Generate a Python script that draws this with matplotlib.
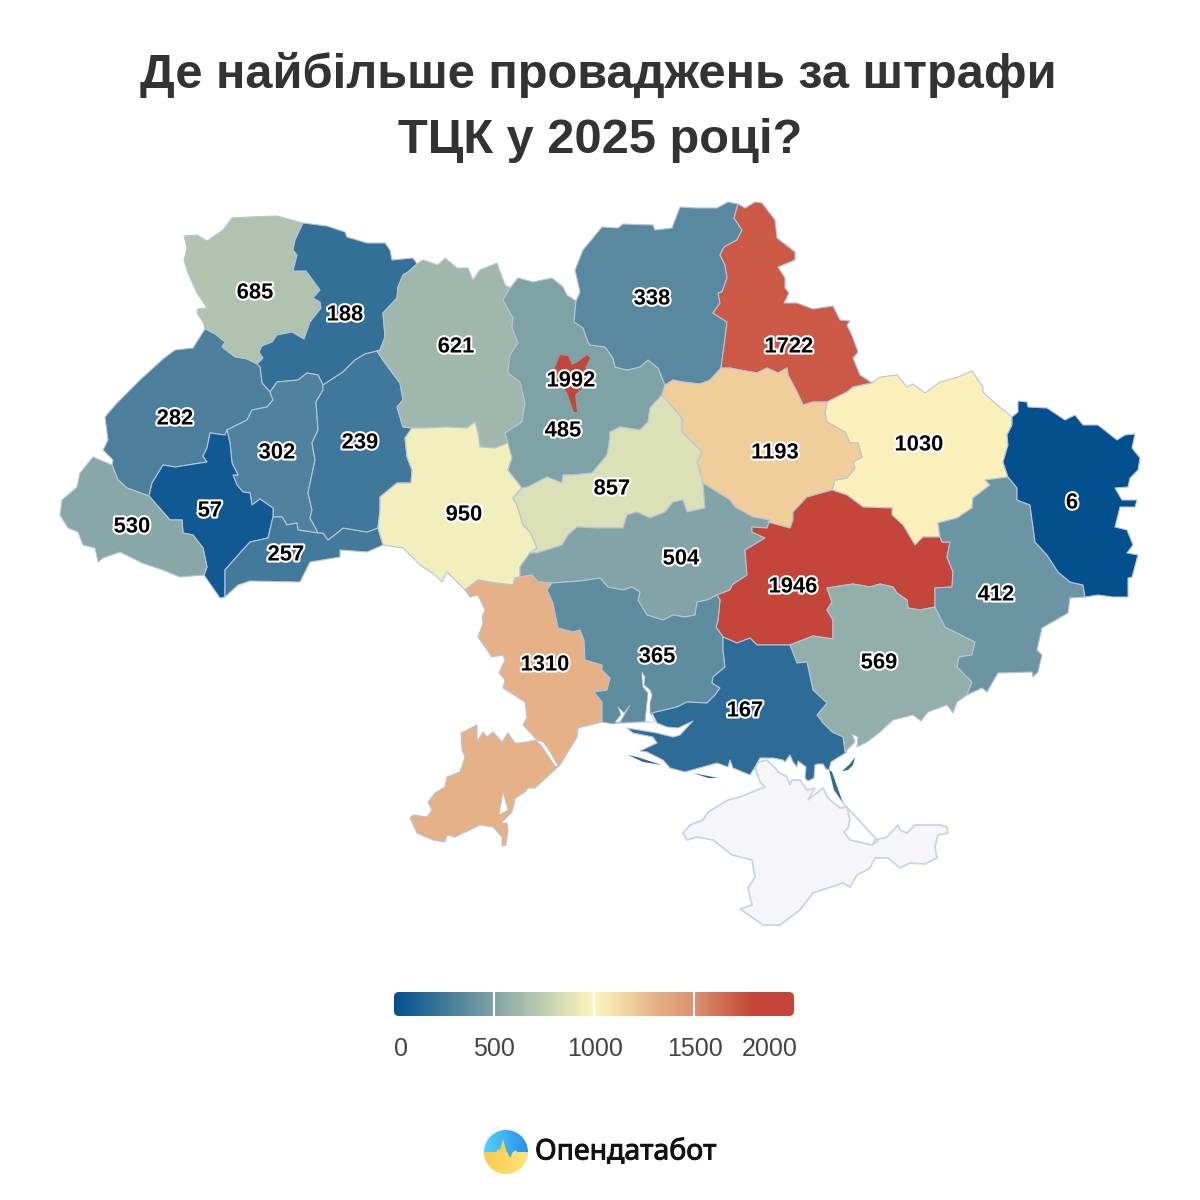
import numpy as np
import matplotlib
matplotlib.use('Agg')
import matplotlib.pyplot as plt
import matplotlib.patheffects as pe
from matplotlib.colors import LinearSegmentedColormap, Normalize
from matplotlib.patches import Polygon, FancyBboxPatch, Circle

plt.rcParams['font.family'] = ['Liberation Sans', 'DejaVu Sans']

# values per region
names = ['volyn', 'rivne', 'lviv', 'ternopil', 'ivano', 'zakarpattia', 'chernivtsi', 'khmelnytskyi',
         'zhytomyr', 'vinnytsia', 'kyivobl', 'chernihiv', 'sumy', 'kharkiv', 'poltava', 'cherkasy',
         'kirovohrad', 'dnipro', 'zaporizhzhia', 'donetsk', 'luhansk', 'odesa', 'mykolaiv', 'kherson', 'kyivcity']
values = [685, 188, 282, 302, 57, 530, 257, 239,
          621, 950, 485, 338, 1722, 1030, 1193, 857,
          504, 1946, 569, 412, 6, 1310, 365, 167, 1992]
label_x = [255, 345, 175, 277, 210, 132, 286, 360,
           456, 464, 563, 652, 789, 919, 775, 612,
           681, 793, 879, 996, 1072, 545, 657, 745, 571]
label_y = [293, 315, 419, 453, 511, 527, 555, 443,
           347, 515, 431, 299, 347, 445, 453, 489,
           559, 587, 663, 595, 503, 665, 657, 711, 381]

# legend
legend_ticks = [0, 500, 1000, 1500, 2000]
stop_values = [0, 500, 857, 1000, 1193, 1310, 1500, 1722, 1800, 2000]
stop_colors = ['#03508f', '#82a4a6', '#dce1b6', '#fdf6be', '#f0ce9a', '#e6b187', '#dc9273', '#cb5a46', '#c4453a', '#c4453a']

volyn_rivne = [(303,223),(295,240),(293,250),(297,255),(293,271),(306,271),(320,290),(313,298),(320,302),(321,308),(310,322),(304,339),(292,332),(277,335),(272,342),(262,346),(259,352),(263,358),(257,364)]
volyn_lviv = [(257,364),(247,359),(235,357),(222,347),(225,342),(215,334),(205,329)]
volyn_outer = [(205,329),(203,322),(197,313),(198,309),(207,308),(197,293),(188,273),(184,260),(187,248),(184,236),(197,235),(207,241),(223,230),(232,218),(250,217),(277,216),(303,223)]
rivne_outer = [(303,223),(327,226),(345,232),(347,237),(367,243),(385,243),(390,250),(392,260),(413,258),(417,264)]
rivne_zhyt = [(417,264),(408,272),(403,275),(398,287),(397,298),(383,313),(385,337),(380,350),(377,351)]
rivne_khm = [(377,351),(365,354),(355,360),(343,372),(323,385)]
rivne_tern = [(323,385),(318,375),(307,373),(298,380),(277,382),(270,392)]
rivne_lviv = [(270,392),(262,383),(260,367),(257,364)]
lviv_outer = [(205,329),(193,348),(175,350),(163,359),(140,380),(117,403),(105,417),(108,440),(103,450),(113,460),(112,465)]
lviv_zak = [(112,465),(118,480),(127,488),(149,496)]
lviv_ivano = [(149,496),(152,483),(163,465),(175,467),(207,462),(203,456),(207,448),(210,433),(225,435),(227,430)]
lviv_tern = [(227,430),(247,420),(252,410),(267,407),(273,400),(270,392)]
tern_khm = [(323,385),(323,390),(316,402),(318,430),(312,443),(315,460),(308,493),(312,510),(310,518),(315,527),(318,533)]
tern_chern = [(318,533),(298,530),(297,523),(287,525),(282,517),(273,517)]
tern_ivano = [(273,517),(273,508),(260,499),(252,505),(250,493),(243,492),(237,485),(233,475),(238,475),(232,463),(230,443),(227,430)]
ivano_zak = [(149,496),(170,520),(182,520),(183,533),(193,535),(203,548),(207,567),(204,575)]
ivano_tip = [(204,575),(220,598),(225,597)]
ivano_chern = [(225,597),(225,570),(240,553),(250,542),(268,538),(273,517)]
zak_outer = [(204,575),(180,577),(163,570),(142,563),(120,552),(103,558),(98,562),(95,548),(83,545),(78,532),(68,528),(60,515),(62,500),(77,487),(80,473),(93,457),(112,465)]
chern_outer = [(225,597),(238,585),(250,581),(300,582),(310,562),(340,557),(340,550),(367,552),(383,545)]
chern_vin = [(383,545),(378,528)]
chern_khm = [(378,528),(367,532),(343,528),(337,533),(328,540),(323,533),(318,533)]
khm_zhyt = [(377,351),(385,363),(400,383),(403,400),(397,407),(403,427),(412,428)]
khm_vin = [(412,428),(405,438),(407,457),(412,470),(411,483),(397,483),(380,497),(380,510),(378,528)]
zhyt_outer = [(417,264),(423,260),(438,265),(445,258),(457,268),(468,268),(473,280),(480,270),(497,263),(505,285),(510,288)]
zhyt_kyiv = [(510,288),(503,300),(513,318),(512,328),(518,343),(510,355),(508,373),(520,382),(525,403),(522,422),(505,433),(508,443)]
zhyt_vin = [(508,443),(495,448),(480,447),(478,433),(475,422),(467,428),(445,427),(427,428),(412,428)]
vin_outer = [(383,545),(403,548),(420,565),(435,575),(442,582),(447,572),(465,590)]
vin_odesa = [(465,590),(478,580),(495,583),(513,585),(515,578),(520,577)]
vin_kirov = [(520,577),(520,567),(530,553)]
vin_cherk = [(530,553),(537,548),(530,532),(523,525),(517,505),(513,498),(522,488)]
vin_kyiv = [(522,488),(508,470),(512,458),(508,443)]
kyiv_outer = [(510,288),(518,278),(533,282),(552,278),(563,287),(567,295),(576,301)]
kyiv_cher = [(576,301),(574,322),(583,328),(588,342),(590,345),(605,347),(613,358),(615,367),(627,370),(640,367),(648,360),(658,368),(665,385)]
kyiv_polt = [(665,385),(662,395)]
kyiv_cherk = [(662,395),(650,408),(648,422),(640,430),(620,427),(610,432),(609,445),(607,455),(592,473),(573,475),(563,475),(562,483),(547,477),(528,487),(522,488)]
cher_outer = [(576,301),(580,292),(575,270),(583,250),(602,227),(618,228),(623,224),(653,225),(655,230),(672,228),(680,207),(697,208),(717,208),(728,202),(738,204)]
cher_sumy = [(738,204),(734,218),(742,230),(737,240),(724,247),(720,255),(725,265),(727,278),(722,292),(718,293),(720,303),(713,313),(727,322),(725,338),(721,368)]
cher_polt = [(721,368),(710,380),(700,384),(683,382),(673,380),(665,385)]
sumy_outer = [(738,204),(745,208),(755,202),(762,203),(775,220),(777,238),(795,252),(795,260),(778,267),(785,278),(785,288),(789,293),(784,303),(797,303),(813,309),(833,306),(840,320),(850,321),(847,325),(853,338),(858,352),(853,358),(860,375),(872,383)]
sumy_khar = [(872,383),(853,387),(847,392),(827,402)]
sumy_polt = [(827,402),(813,402),(803,405),(797,392),(788,375),(787,368),(778,373),(767,368),(757,373),(740,370),(730,368),(721,368)]
khar_outer = [(872,383),(880,377),(897,375),(907,387),(913,384),(925,393),(940,382),(958,377),(972,371),(983,387),(983,392),(995,403),(1012,417)]
khar_lug = [(1012,417),(1012,425),(1007,435),(1008,445),(1003,462),(1008,477)]
khar_don = [(1008,477),(985,480),(990,485),(973,498),(972,508),(957,518),(938,523),(940,537)]
khar_dni = [(940,537),(923,537),(915,545),(903,525),(892,515),(892,508),(863,507),(847,495),(832,490)]
khar_polt = [(832,490),(835,480),(847,478),(855,468),(853,462),(862,457),(858,443),(850,443),(845,432),(827,422),(825,413),(827,402)]
polt_cherk = [(662,395),(682,418),(682,432),(702,452),(697,462),(703,483)]
polt_kirov = [(703,483),(730,500),(735,507),(753,517),(770,520)]
dni_polt = [(770,520),(768,522),(790,528),(793,520),(793,512),(807,497),(832,490)]
cherk_kirov = [(703,483),(705,508),(687,512),(683,500),(673,502),(665,512),(650,518),(637,512),(627,515),(623,528),(597,528),(577,527),(568,535),(562,545),(537,553),(530,553)]
kirov_odesa = [(520,577),(532,575),(538,582),(552,583)]
kirov_myk = [(552,583),(580,581),(600,578),(608,587),(623,590),(632,587),(640,592),(638,600),(647,615),(663,620),(673,615),(685,617),(695,615),(697,602),(707,600),(717,595)]
kirov_dni = [(717,595),(730,590),(732,585),(747,575),(745,550),(765,538),(752,532),(752,527),(767,528),(770,520)]
dni_don = [(940,537),(942,542),(950,542),(947,557),(953,572),(952,587),(935,588),(935,602),(935,607)]
dni_zap = [(935,607),(920,610),(908,608),(907,600),(897,593),(893,587),(880,584),(870,587),(853,584),(827,588),(832,602),(827,610),(833,620),(833,639),(813,636),(790,645)]
dni_kher = [(790,645),(757,645),(750,638),(737,643),(723,637)]
dni_myk = [(717,595),(720,600),(718,620),(716,627),(723,637)]
zap_don = [(935,607),(945,627),(975,642),(972,655),(959,657),(957,667),(972,682),(967,695)]
zap_outer = [(967,695),(957,702),(953,713),(947,705),(928,712),(921,721),(913,715),(893,720),(880,732),(867,742),(857,747),(858,737),(852,734),(855,742),(845,752)]
zap_kher = [(845,752),(843,737),(832,732),(823,723),(817,715),(827,703),(813,690),(807,662),(797,663),(790,645)]
don_lug = [(1008,477),(1017,488),(1017,500),(1030,505),(1035,542),(1047,555),(1058,572),(1070,582),(1083,585),(1085,597)]
don_outer = [(1085,597),(1070,598),(1068,613),(1042,628),(1037,650),(1042,655),(1038,672),(1033,677),(1032,672),(998,673),(987,692),(982,688),(967,695)]
lug_outer = [(1012,417),(1018,412),(1018,401),(1027,402),(1028,407),(1047,408),(1065,420),(1075,415),(1083,425),(1098,425),(1117,440),(1125,435),(1135,434),(1132,448),(1140,458),(1138,470),(1130,478),(1128,487),(1115,488),(1122,500),(1137,500),(1135,507),(1120,507),(1115,527),(1127,530),(1133,545),(1127,553),(1138,555),(1132,577),(1128,578),(1128,597),(1113,597),(1098,595),(1085,597)]
odesa_outer = [(465,590),(470,597),(478,595),(485,610),(482,617),(483,623),(478,637),(492,657),(503,655),(505,660),(499,673),(505,680),(503,688),(525,702),(527,717),(523,725),(537,740),(520,743),(515,743),(508,733),(502,742),(493,732),(487,737),(483,732),(477,742),(477,725),(461,733),(462,750),(465,757),(460,772),(447,777),(445,787),(435,793),(428,802),(432,810),(427,817),(413,815),(410,818),(417,833),(433,840),(445,842),(447,835),(455,837),(480,825),(493,827),(502,837),(502,846),(506,845),(508,830),(507,823),(501,823),(512,812),(515,800),(513,800),(520,795),(525,792),(528,788),(535,788),(560,765),(577,737),(578,728),(602,722)]
odesa_myk = [(552,583),(547,590),(553,603),(558,628),(573,632),(580,630),(584,640),(585,660),(602,665),(602,670),(610,678),(607,690),(594,692),(602,702),(602,722)]
myk_kher = [(723,637),(723,650),(725,667),(713,677),(712,683),(720,688),(715,695),(707,703),(687,702),(677,707),(652,713)]
myk_coast = [(652,713),(649,722),(640,722),(625,723),(617,723),(613,724),(602,722)]
kher_coast = [(847,752),(831,762),(829,770),(826,769),(823,764),(818,764),(815,765),(814,778),(808,781),(805,778),(806,767),(798,761),(797,767),(793,762),(790,755),(785,762),(783,760),(773,758),(760,758),(755,767),(750,775),(733,768),(730,760),(728,767),(717,763),(685,772),(670,768),(663,760),(647,752),(640,751),(657,743),(653,737),(633,733),(627,728),(657,733),(673,737),(680,735),(693,721),(678,728),(667,727),(657,723),(652,713)]
kyivcity_ring = [(560,355),(568,356),(572,365),(578,362),(587,355),(590,358),(585,368),(590,377),(580,390),(575,395),(577,412),(574,412),(567,392),(557,382),(555,368)]
crimea_ring = [(683,833),(690,825),(703,820),(708,812),(723,803),(728,800),(740,797),(757,790),(765,787),(760,782),(755,768),(758,762),(767,760),(777,770),(778,772),(787,777),(790,785),(792,780),(800,780),(807,790),(815,788),(808,800),(823,788),(828,798),(840,808),(847,807),(850,820),(848,828),(844,832),(850,840),(872,845),(875,840),(887,837),(898,825),(900,830),(907,833),(915,825),(940,825),(947,827),(948,833),(938,835),(935,847),(937,858),(925,864),(910,863),(900,868),(888,858),(875,858),(870,868),(857,875),(850,887),(843,883),(813,893),(800,910),(780,925),(763,925),(753,918),(740,909),(752,905),(748,888),(755,877),(752,860),(732,855),(713,840),(697,837),(687,840)]
arabat_line = [(843,803),(878,841),(872,845)]

# water cut into the coast and small islands
inlets = [
    [(642,672),(645,677),(644,685),(650,690),(652,695),(650,703),(650,713),(655,722),(645,722),(646,712),(647,703),(648,693),(643,687),(642,677)],
    [(618,707),(624,713),(630,705),(623,717),(620,722),(615,722),(621,715)],
    [(535,740),(541,745),(555,766),(558,766),(549,750),(543,742)],
    [(503,792),(499,815),(508,810)],
]
islands = [
    [(628,755),(637,757),(662,765),(643,762)],
    [(693,773),(718,778),(708,778)],
    [(829,770),(832,772),(843,803),(834,790)],
    [(842,771),(850,764),(855,757),(853,765),(848,770)],
]


def rv(chain):
    return chain[::-1]


def ring(*parts):
    pts = []
    for p in parts:
        pts += p
    return pts


rings = {
    'volyn': ring(volyn_rivne, volyn_lviv, volyn_outer),
    'rivne': ring(rivne_outer, rivne_zhyt, rivne_khm, rivne_tern, rivne_lviv, rv(volyn_rivne)),
    'lviv': ring(lviv_outer, lviv_zak, lviv_ivano, lviv_tern, rivne_lviv, volyn_lviv),
    'ternopil': ring(rv(rivne_tern), tern_khm, tern_chern, tern_ivano, lviv_tern),
    'ivano': ring(rv(lviv_ivano), ivano_zak, ivano_tip, ivano_chern, tern_ivano),
    'zakarpattia': ring(zak_outer, lviv_zak, ivano_zak),
    'chernivtsi': ring(rv(ivano_chern), chern_outer, chern_vin, chern_khm, tern_chern),
    'khmelnytskyi': ring(rv(rivne_khm), khm_zhyt, khm_vin, chern_khm, rv(tern_khm)),
    'zhytomyr': ring(zhyt_outer, zhyt_kyiv, zhyt_vin, rv(khm_zhyt), rv(rivne_zhyt)),
    'vinnytsia': ring(vin_outer, vin_odesa, vin_kirov, vin_cherk, vin_kyiv, zhyt_vin, khm_vin, rv(chern_vin)),
    'kyivobl': ring(kyiv_outer, kyiv_cher, kyiv_polt, kyiv_cherk, vin_kyiv, rv(zhyt_kyiv)),
    'chernihiv': ring(cher_outer, cher_sumy, cher_polt, rv(kyiv_cher)),
    'sumy': ring(sumy_outer, sumy_khar, sumy_polt, rv(cher_sumy)),
    'kharkiv': ring(khar_outer, khar_lug, khar_don, khar_dni, khar_polt, rv(sumy_khar)),
    'poltava': ring(rv(kyiv_polt), rv(cher_polt), rv(sumy_polt), rv(khar_polt), rv(dni_polt), rv(polt_kirov), rv(polt_cherk)),
    'cherkasy': ring(rv(kyiv_cherk), polt_cherk, cherk_kirov, vin_cherk),
    'kirovohrad': ring(rv(vin_kirov), kirov_odesa, kirov_myk, kirov_dni, rv(polt_kirov), cherk_kirov),
    'dnipro': ring(dni_polt, rv(khar_dni), dni_don, dni_zap, dni_kher, rv(dni_myk), kirov_dni),
    'zaporizhzhia': ring(rv(dni_zap), zap_don, zap_outer, zap_kher),
    'donetsk': ring(rv(khar_don), don_lug, don_outer, rv(zap_don), rv(dni_don)),
    'luhansk': ring(lug_outer, rv(don_lug), rv(khar_lug)),
    'odesa': ring(vin_odesa, kirov_odesa, odesa_myk, rv(odesa_outer)),
    'mykolaiv': ring(kirov_myk, dni_myk, myk_kher, myk_coast, rv(odesa_myk)),
    'kherson': ring(rv(dni_kher), rv(zap_kher), kher_coast, rv(myk_kher)),
    'kyivcity': kyivcity_ring,
}

positions = [(v - stop_values[0]) / (stop_values[-1] - stop_values[0]) for v in stop_values]
cmap = LinearSegmentedColormap.from_list('rdylbu', list(zip(positions, stop_colors)))
norm = Normalize(0, 2000)
edge = '#b9c3da'

fig = plt.figure(figsize=(12, 12), dpi=100, facecolor='white')
ax = fig.add_axes([0, 0, 1, 1])

# map
ax.add_patch(Polygon(crimea_ring, closed=True, facecolor='#f6f6f8', edgecolor='#c9d3ea', lw=1.3, zorder=1))
ax.plot(*zip(*arabat_line), color='#c9d3ea', lw=1.3, zorder=1)
for name, val in zip(names, values):
    z = 3 if name == 'kyivcity' else 2
    ec = 'none' if name == 'kyivcity' else edge
    ax.add_patch(Polygon(rings[name], closed=True, facecolor=cmap(norm(val)), edgecolor=ec, lw=0.8,
                         joinstyle='round', zorder=z))
for pts in inlets:
    ax.add_patch(Polygon(pts, closed=True, facecolor='white', edgecolor=edge, lw=0.5, zorder=3))
for pts in islands:
    ax.add_patch(Polygon(pts, closed=True, facecolor=cmap(norm(167)), edgecolor='none', zorder=3))

# value labels
for val, lx, ly in zip(values, label_x, label_y):
    ax.text(lx, ly, str(val), ha='center', va='center', fontsize=15.8, fontweight='bold', color='black',
            path_effects=[pe.withStroke(linewidth=3, foreground='white')], zorder=5)

# title
ax.text(598.5, 74.5, 'Де найбільше проваджень за штрафи', ha='center', va='center', fontsize=35.1,
        fontweight='bold', color='#333333')
ax.text(600, 140.5, 'ТЦК у 2025 році?', ha='center', va='center', fontsize=35.1,
        fontweight='bold', color='#333333')

# legend bar
grad = np.linspace(0, 2000, 800).reshape(1, -1)
im = ax.imshow(grad, cmap=cmap, norm=norm, extent=(394, 794, 1016, 992), aspect='auto', zorder=2)
clip = FancyBboxPatch((399, 997), 390, 14, boxstyle='round,pad=5,rounding_size=5',
                      facecolor='none', edgecolor='none', transform=ax.transData)
ax.add_patch(clip)
im.set_clip_path(clip)
for t in legend_ticks[1:-1]:
    xt = 394 + 400 * t / 2000
    ax.plot([xt, xt], [992, 1016], color='white', lw=1.5, zorder=3, solid_capstyle='butt')
ax.text(394, 1049, '0', ha='left', va='center', fontsize=18, color='#444444')
ax.text(494, 1049, '500', ha='center', va='center', fontsize=18, color='#444444')
ax.text(595, 1049, '1000', ha='center', va='center', fontsize=18, color='#444444')
ax.text(695, 1049, '1500', ha='center', va='center', fontsize=18, color='#444444')
ax.text(798, 1049, '2000', ha='right', va='center', fontsize=18, color='#444444')

# logo
logo_top = ax.imshow(np.linspace(0, 1, 50).reshape(1, -1), extent=(484, 528, 1152, 1130), aspect='auto', zorder=2,
                     cmap=LinearSegmentedColormap.from_list('b', ['#4fd2ff', '#2a8ff0']))
logo_bot = ax.imshow(np.linspace(0, 1, 50).reshape(1, -1), extent=(484, 528, 1174, 1152), aspect='auto', zorder=2,
                     cmap=LinearSegmentedColormap.from_list('y', ['#f8cb4a', '#fde47e']))
for im_logo in (logo_top, logo_bot):
    c = Circle((506, 1152), 22, transform=ax.transData, facecolor='none', edgecolor='none')
    ax.add_patch(c)
    im_logo.set_clip_path(c)
pulse_up = [(496,1152.5),(498,1149),(500,1150),(503,1139),(505,1146),(507,1152.5)]
pulse_small = [(513,1152.5),(515,1150),(518,1152.5)]
pulse_down = [(507,1151.5),(510,1158),(513,1151.5)]
ax.add_patch(Polygon(pulse_up, closed=True, facecolor='#f8cf55', edgecolor='none', zorder=3))
ax.add_patch(Polygon(pulse_small, closed=True, facecolor='#fbdb6c', edgecolor='none', zorder=3))
ax.add_patch(Polygon(pulse_down, closed=True, facecolor='#3aa6f5', edgecolor='none', zorder=3))
ax.text(535, 1152, 'Опендатабот', ha='left', va='center', fontsize=20.5, fontweight='semibold',
        family=['Noto Sans', 'DejaVu Sans'], color='#111111',
        path_effects=[pe.withStroke(linewidth=0.7, foreground='#111111')])

ax.set_xlim(0, 1200)
ax.set_ylim(1200, 0)
ax.axis('off')

fig.savefig('out.png', dpi=100)
